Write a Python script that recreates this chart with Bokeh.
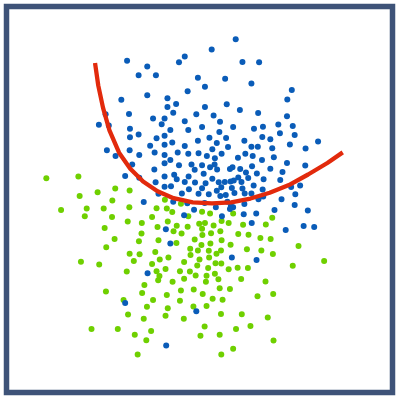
from bokeh.plotting import figure
from bokeh.models import Range1d
from bokeh.embed import file_html
from bokeh.resources import INLINE

# Class A (blue) points
blue_x = [734,659,575,557,395,755,807,458,431,485,616,701,783,638,909,584,458,377,521,895,
          548,706,521,638,747,539,401,328,611,804,665,894,476,512,685,575,307,338,503,867,
          912,629,726,404,586,530,791,819,683,872,918,431,512,404,487,652,704,817,842,616,
          536,761,675,991,903,512,575,467,661,710,783,803,848,332,403,952,481,553,586,618,
          690,764,512,433,359,644,669,741,787,853,530,816,411,512,557,596,629,654,668,676,
          606,724,716,748,785,894,951,480,842,634,766,880,800,389,433,512,542,587,550,661,
          742,773,821,873,575,607,640,681,700,718,728,752,484,512,532,629,689,722,755,790,
          907,935,588,675,818,493,566,618,650,686,703,730,762,783,820,920,805,877,447,539,
          583,637,708,672,719,726,761,918,604,716,855,959,573,759,798,691,784,946,979,890,
          516,530,722,799,459,389,611,517]
blue_y = [121,153,175,193,188,192,193,206,233,233,241,244,259,269,279,283,296,310,305,309,
          323,324,332,332,342,350,354,355,355,351,359,361,368,368,378,377,388,390,386,387,
          392,395,395,400,404,404,400,394,410,414,420,418,422,427,430,428,429,426,433,438,
          443,438,445,440,449,450,454,453,464,457,456,456,461,467,467,462,474,474,478,477,
          478,478,482,482,485,485,492,491,485,489,498,498,512,508,514,512,514,520,512,527,
          528,520,526,526,517,507,515,527,525,541,537,535,540,548,553,549,544,549,558,556,
          552,554,558,560,566,568,570,567,566,565,562,566,567,581,580,586,583,585,587,577,
          582,577,589,594,590,603,602,603,605,610,607,601,602,602,612,605,620,620,629,628,
          633,632,628,645,641,645,635,638,653,651,654,655,670,667,665,673,694,704,707,716,
          714,758,802,810,851,944,970,1077]

# Class B (green) points
green_x = [143,243,358,403,303,247,349,189,269,322,402,263,348,397,441,325,440,356,432,330,
           251,308,403,434,416,394,329,384,398,284,366,419,428,447,455,470,457,476,442,449,
           473,483,497,487,492,496,515,524,537,519,522,515,563,560,560,573,573,572,592,593,
           591,603,602,609,614,616,621,627,631,637,624,643,641,643,648,651,650,655,662,669,
           671,674,680,684,689,688,690,693,688,684,689,712,716,718,740,751,753,735,726,769,
           772,780,802,814,811,827,834,850,851,852,843,774,742,757,712,686,690,665,657,638,
           629,630,620,606,584,565,550,540,549,522,493,490,473,487,519,513,536,563,586,629,
           654,726,848,828,912,930,1010]
green_y = [555,549,587,593,598,610,624,654,649,649,645,673,676,690,694,710,727,744,751,770,
           815,824,790,792,813,846,908,935,980,1025,1025,1043,1105,993,1060,1031,956,935,913,888,
           822,785,808,845,873,860,838,802,878,919,960,984,905,937,845,868,816,993,775,794,
           846,902,955,858,827,780,808,763,916,1017,1046,953,878,859,835,802,781,758,931,853,
           820,790,870,898,821,780,748,934,978,1043,1105,839,900,762,834,869,979,1025,1087,776,
           835,1016,923,780,741,877,989,791,916,1061,744,731,729,700,694,720,688,702,726,694,
           712,732,697,746,706,727,703,720,757,690,748,707,676,648,649,622,660,634,673,659,
           665,665,678,699,828,766,813]

# Decision boundary
curve_x = [295,305,320,340,370,405,445,490,540,600,660,720,780,840,900,960,1020,1068]
curve_y = [195,265,335,405,475,525,565,595,617,630,633,630,618,600,576,543,507,474]

p = figure(width=398, height=398, output_backend="svg", toolbar_location=None,
           x_range=Range1d(18.7, 1223.3), y_range=Range1d(1223.3, 18.7),
           min_border=6, min_border_left=6, min_border_right=6,
           min_border_top=6, min_border_bottom=6,
           border_fill_color="white", background_fill_color="white",
           outline_line_color="#3e5378", outline_line_width=5.5,
           outline_line_join="miter")
p.xaxis.visible = False
p.yaxis.visible = False
p.grid.visible = False

p.scatter(green_x, green_y, size=6.0, color="#6fd000", line_color=None)
p.scatter(blue_x, blue_y, size=6.0, color="#0a5cb8", line_color=None)
p.line(curve_x, curve_y, line_width=4.3, color="#e22a0c", line_join="round")

open("out.html", "w").write(file_html(p, INLINE))
